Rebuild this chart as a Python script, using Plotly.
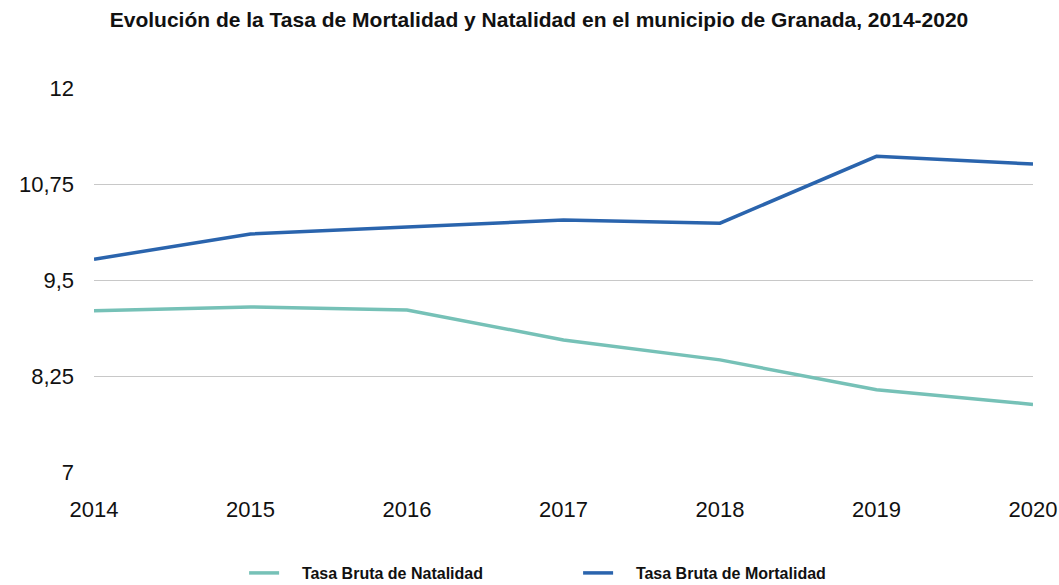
import plotly.graph_objects as go

years = [2014, 2015, 2016, 2017, 2018, 2019, 2020]
natalidad = [9.10, 9.15, 9.11, 8.72, 8.46, 8.07, 7.88]
mortalidad = [9.77, 10.10, 10.19, 10.28, 10.24, 11.11, 11.01]
y_ticks = [7, 8.25, 9.5, 10.75, 12]
y_tick_text = ["7", "8,25", "9,5", "10,75", "12"]

pad = "\u00a0\u00a0\u00a0\u00a0"
fig = go.Figure()
fig.add_trace(go.Scatter(x=years, y=natalidad, mode="lines",
                         name=pad + "<b>Tasa Bruta de Natalidad</b>",
                         line=dict(color="#76c1b7", width=3.5)))
fig.add_trace(go.Scatter(x=years, y=mortalidad, mode="lines",
                         name=pad + "<b>Tasa Bruta de Mortalidad</b>",
                         line=dict(color="#2a64ad", width=3.5)))

fig.update_layout(
    width=1059, height=585,
    margin=dict(l=94, r=26, t=88, b=113),
    paper_bgcolor="white", plot_bgcolor="white",
    font=dict(family="Liberation Sans, Arial, sans-serif", color="#111"),
    title=dict(text="<b>Evolución de la Tasa de Mortalidad y Natalidad en el municipio de Granada, 2014-2020</b>",
               xref="container", x=0.509, xanchor="center", y=0.966, yanchor="middle",
               font=dict(size=21, color="#111")),
    showlegend=True,
    legend=dict(orientation="h", xref="container", x=0.2305, xanchor="left",
                yref="container", y=0.0205, yanchor="middle",
                font=dict(size=16, color="#111"), entrywidth=289, entrywidthmode="pixels",
                traceorder="normal"),
)
fig.update_xaxes(range=[2014, 2020], tickvals=years, ticktext=[str(y) for y in years],
                 showgrid=False, zeroline=False, showline=False, ticks="", automargin=False,
                 tickfont=dict(size=22, color="#111"), ticklabelstandoff=22)
fig.update_yaxes(range=[7, 12], tickvals=y_ticks, ticktext=y_tick_text,
                 showgrid=True, gridcolor="#c8c8c8", gridwidth=1, zeroline=False, automargin=False,
                 showline=False, ticks="", tickfont=dict(size=22, color="#111"),
                 ticklabelstandoff=19)

fig.write_html("out.html", config={"displayModeBar": False},
               post_script="document.body.style.margin='0';document.body.style.padding='0';")
